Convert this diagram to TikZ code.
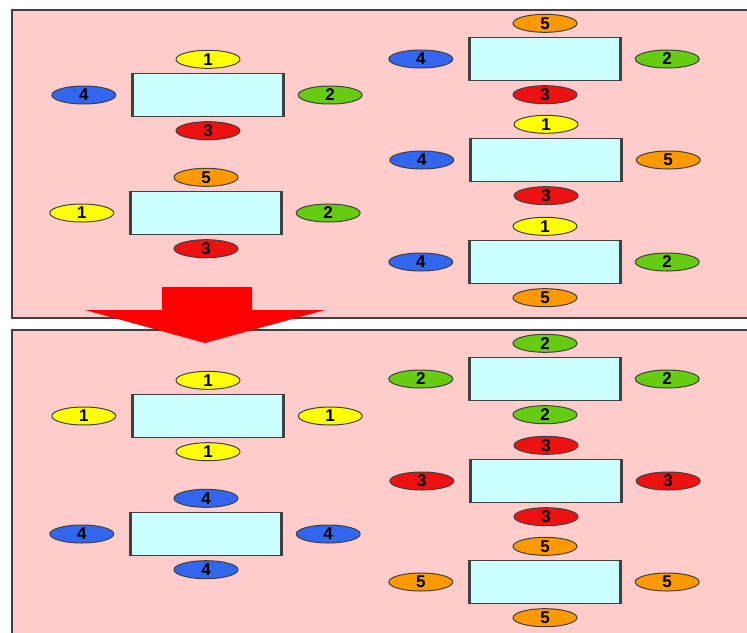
\documentclass[tikz,border=0pt]{standalone}
\usepackage{fontspec}
\setmainfont{Liberation Sans}
\usetikzlibrary{shapes,positioning}
\definecolor{panelpink}{HTML}{FFCCCC}
\definecolor{tablecyan}{HTML}{CCFFFF}
\definecolor{frame}{HTML}{404040}
\definecolor{seatyellow}{HTML}{FFFF00}
\definecolor{seatgreen}{HTML}{66CC11}
\definecolor{seatred}{HTML}{EE1111}
\definecolor{seatblue}{HTML}{3366EE}
\definecolor{seatorange}{HTML}{FF9900}
% a table with its four seats: name, centre, top, right, bottom, left
\newcommand{\seat}[6]{%
  \node[tablebox] (#1) at (#2) {};
  \draw[frame, line width=3pt] (#1.north west) -- (#1.south west);
  \draw[frame, line width=3pt] (#1.north east) -- (#1.south east);
  \node[badge, c#3, above=4pt of #1] (#1-n) {#3};
  \node[badge, c#4, right=14pt of #1] (#1-e) {#4};
  \node[badge, c#5, below=4pt of #1] (#1-s) {#5};
  \node[badge, c#6, left=16pt of #1] (#1-w) {#6};
}

\begin{document}
\begin{tikzpicture}[x=1pt, y=-1pt,
  tablebox/.style={rectangle, draw=frame, line width=1.4pt, fill=tablecyan, minimum width=150pt, minimum height=43pt},
  badge/.style={ellipse, draw=frame, line width=1pt, inner sep=0pt, minimum width=64pt, minimum height=18pt, font=\fontsize{17}{17}\selectfont\bfseries},
  c1/.style={fill=seatyellow}, c2/.style={fill=seatgreen}, c3/.style={fill=seatred},
  c4/.style={fill=seatblue}, c5/.style={fill=seatorange},
  panel/.style={fill=panelpink, draw=frame, line width=1.2pt}]
\useasboundingbox (0,0) rectangle (747,632);
\fill[white] (0,0) rectangle (747,632);
% panels
\draw[panel] (12,10) rectangle (752,318);
\draw[panel] (12,330) rectangle (752,640);
\draw[frame, line width=2.5pt] (12,10) -- (12,318);
\draw[frame, line width=2.5pt] (12,330) -- (12,632);
% before
\seat{tl1}{208,95}{1}{2}{3}{4}
\seat{tl2}{206,213}{5}{2}{3}{1}
\seat{tr1}{545,59}{5}{2}{3}{4}
\seat{tr2}{546,160}{1}{5}{3}{4}
\seat{tr3}{545,262}{1}{2}{5}{4}
% after
\seat{bl1}{208,416}{1}{1}{1}{1}
\seat{bl2}{206,534}{4}{4}{4}{4}
\seat{br1}{545,379}{2}{2}{2}{2}
\seat{br2}{546,481}{3}{3}{3}{3}
\seat{br3}{545,582}{5}{5}{5}{5}
% big arrow
\fill[red] (162,287) -- (252,287) -- (252,310) -- (325,310) -- (205,343)
  -- (85,310) -- (162,310) -- cycle;
\end{tikzpicture}
\end{document}
